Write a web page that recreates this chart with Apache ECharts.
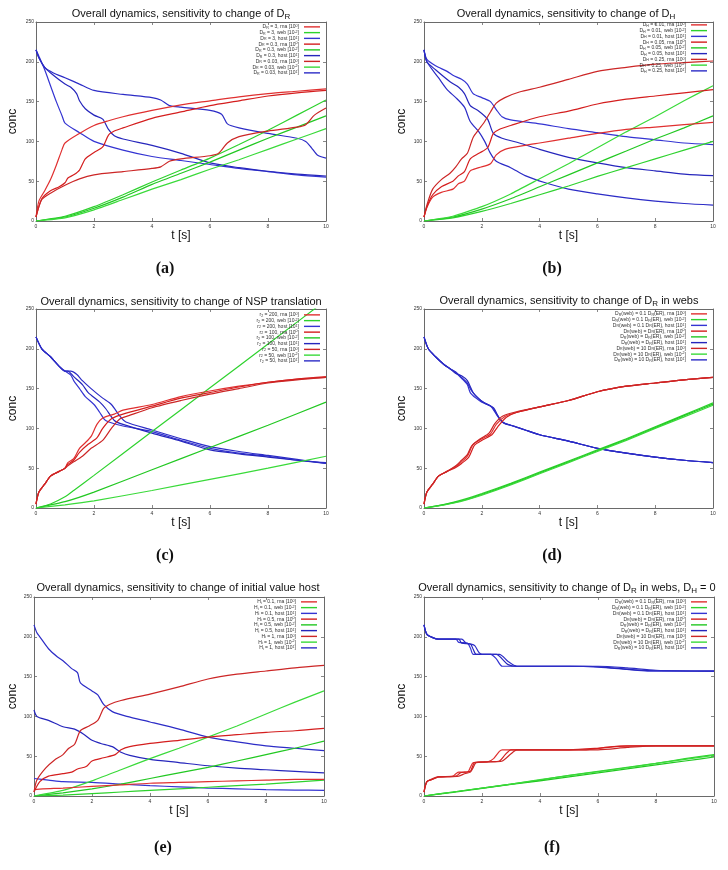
<!DOCTYPE html>
<html><head><meta charset="utf-8">
<script src="https://cdn.jsdelivr.net/npm/echarts@6/dist/echarts.min.js"></script>
<style>html,body{margin:0;padding:0;background:#fff}#c{width:728px;height:870px}</style>
</head><body><div id="c"></div>
<script>
// ---------- Panel (a): sensitivity to D_R ----------
const aRna1 = [[0,5],[0.1,25],[0.3,38],[0.5,52],[0.7,70],[0.9,90],[1,98],[1.5,110],[2,120],[2.5,126],[3,131],[4,139],[5,146],[6,151],[7,156],[8,160],[9,163],[10,166]];
const aRna2 = [[0,5],[0.2,28],[0.5,38],[0.8,43],[1,48],[1.1,54],[1.3,58],[1.5,64],[1.7,78],[2,86],[2.3,93],[2.5,108],[2.7,113],[3,117],[4,129],[5,137],[6,145],[7,151],[8,157],[9,161],[10,164]];
const aRna3 = [[0,5],[0.2,27],[0.5,35],[1,45],[1.5,53],[2,58],[3,62],[4,66],[4.3,68],[4.6,75],[5,78],[6,82],[6.3,85],[6.6,98],[7,106],[8,113],[9,118],[9.3,121],[9.6,133],[10,142]];
const aWeb1 = [[0,0],[1,6],[2,18],[3,33],[4,49],[5,64],[6,79],[7,96],[8,114],[9,133],[10,152]];
const aWeb2 = [[0,0],[1,5],[2,16],[3,30],[4,46],[5,60],[6,74],[7,89],[8,104],[9,118],[10,132]];
const aWeb3 = [[0,0],[1,4],[2,14],[3,27],[4,40],[5,52],[6,65],[7,77],[8,90],[9,103],[10,116]];
const aHost1 = [[0,215],[0.1,207],[0.3,190],[0.5,170],[0.7,150],[0.9,132],[1,123],[1.5,111],[2,100],[3,89],[4,81],[5,76],[6,71],[7,66],[8,62],[9,58],[10,55]];
const aHost2 = [[0,215],[0.1,205],[0.3,193],[0.6,183],[1,172],[1.2,168],[1.4,160],[1.5,151],[1.7,141],[2,133],[2.3,128],[2.5,115],[2.7,107],[3,103],[4,95],[5,85],[6,73],[7,67],[8,62.5],[9,59],[10,56.5]];
const aHost3 = [[0,215],[0.1,205],[0.3,193],[0.6,186],[1,180],[1.5,172],[2,164],[3,159],[4,155],[4.3,152],[4.6,145],[5,143],[6,139],[6.4,134],[6.6,122],[7,117],[8,110],[9,104],[9.3,100],[9.5,92],[9.7,83],[10,79]];

// ---------- Panel (b): sensitivity to D_H ----------
const bRna1 = [[0,5],[0.1,17],[0.3,30],[0.6,36],[1,40],[1.2,47],[1.4,50],[1.6,63],[1.9,67],[2.3,72],[2.5,83],[2.8,90],[3.5,95],[4,98],[5,104],[6,110],[7,115],[8,118],[9,121],[10,124]];
const bRna2 = [[0,5],[0.1,18],[0.3,33],[0.6,43],[1,50],[1.2,57],[1.4,62],[1.6,78],[1.9,85],[2.2,92],[2.4,110],[2.6,115],[3,120],[4,131],[5,138],[6,147],[7,153],[8,157],[9,161],[10,165]];
const bRna3 = [[0,5],[0.1,20],[0.3,40],[0.6,52],[0.9,60],[1.1,68],[1.3,78],[1.5,85],[1.7,105],[1.9,115],[2.1,125],[2.3,137],[2.5,148],[2.8,155],[3.3,162],[4,168],[5,178],[6,188],[7,193],[8,197],[9,199],[10,201]];
const bWeb1 = [[0,0],[1,4],[2,12],[3,22],[4,33],[5,44],[6,56],[7,67],[8,78],[9,89],[10,100]];
const bWeb2 = [[0,0],[1,5],[2,15],[3,28],[4,43],[5,58],[6,73],[7,88],[8,103],[9,117],[10,132]];
const bWeb3 = [[0,0],[1,6],[2,18],[3,34],[4,53],[5,72],[6,92],[7,112],[8,131],[9,151],[10,170]];
const bHost1 = [[0,215],[0.1,203],[0.4,195],[0.8,188],[1,183],[1.3,178],[1.5,172],[1.7,160],[2,155],[2.3,150],[2.5,140],[2.7,131],[3,127],[4,122],[5,116],[6,111],[7,106],[8,102],[9,98],[10,96]];
const bHost2 = [[0,215],[0.1,200],[0.4,190],[0.9,175],[1.2,168],[1.4,160],[1.6,145],[1.9,138],[2.2,128],[2.4,110],[2.7,104],[3.3,98],[4,90],[5,80],[6,73],[7,67],[8,63],[9,59],[10,57]];
const bHost3 = [[0,215],[0.1,200],[0.5,180],[0.8,165],[1.1,155],[1.4,143],[1.6,125],[1.9,112],[2.1,100],[2.3,85],[2.5,75],[3,67],[3.5,57],[4.2,48],[5,40],[6,34],[7,29],[8,25],[9,22],[10,20]];

// ---------- Panel (c): sensitivity to NSP translation ----------
const cRna1 = [[0,5],[0.1,20],[0.3,30],[0.5,40],[0.8,46],[1,50],[1.1,57],[1.3,62],[1.5,75],[1.7,82],[1.9,90],[2.1,105],[2.3,113],[2.7,118],[3,123],[4,130],[5,140],[6,147],[7,153],[8,158],[9,162],[10,165]];
const cRna2 = [[0,5],[0.1,20],[0.3,30],[0.5,40],[0.8,46],[1,50],[1.1,55],[1.3,60],[1.5,70],[1.8,80],[2.1,88],[2.3,100],[2.6,112],[3,118],[4,128],[5,138],[6,145],[7,152],[8,158],[9,162],[10,164]];
const cRna3 = [[0,5],[0.1,20],[0.3,30],[0.5,40],[0.8,46],[1,50],[1.1,53],[1.3,58],[1.6,65],[1.9,75],[2.3,85],[2.6,100],[2.9,112],[3.2,116],[4,126],[5,135],[6,143],[7,150],[8,157],[9,161],[10,164]];
const cWeb1 = [[0,0],[0.5,5],[1,14],[1.3,22],[2,41],[4,96],[6,151],[8,206],[10,261]];
const cWeb2 = [[0,0],[1,8],[2,20],[4,48],[6,76],[8,104],[10,133]];
const cWeb3 = [[0,0],[1,4],[2,9],[4,22],[6,36],[8,50],[10,65]];
const cHost1 = [[0,215],[0.2,200],[0.5,190],[0.8,178],[1,172],[1.2,167],[1.3,160],[1.5,150],[1.7,140],[2,130],[2.2,120],[2.4,110],[3,103],[4,96],[5,85],[6,75],[7,69],[8,65],[9,60],[10,57]];
const cHost2 = [[0,215],[0.2,200],[0.5,190],[0.8,178],[1,172],[1.1,172],[1.3,165],[1.6,155],[1.8,145],[2.2,133],[2.4,125],[2.7,110],[3,105],[4,94],[5,84],[6,73],[7,68],[8,64],[9,60],[10,56]];
const cHost3 = [[0,215],[0.2,200],[0.5,190],[0.8,178],[1,172],[1.2,172],[1.4,168],[1.6,160],[1.9,150],[2.3,138],[2.6,130],[2.9,115],[3.1,108],[4,98],[5,87],[6,77],[7,71],[8,66],[9,61],[10,56]];

// ---------- Panel (d): sensitivity to D_R in webs ----------
const dRna1 = [[0,5],[0.1,20],[0.3,30],[0.5,40],[0.8,46],[1.1,52],[1.3,58],[1.5,65],[1.7,80],[2,87],[2.3,93],[2.5,105],[2.8,115],[3.2,120],[4,127],[5,135],[6,146],[7,153],[8,157],[9,161],[10,164]];
const dRna2 = [[0,5],[0.1,20],[0.3,30],[0.5,40],[0.8,46],[1.1,51],[1.3,56],[1.55,64],[1.75,79],[2.05,86],[2.35,92],[2.55,102],[2.85,114],[3.2,120],[4,127],[5,135],[6,146],[7,153],[8,157],[9,161],[10,164]];
const dRna3 = [[0,5],[0.1,20],[0.3,30],[0.5,40],[0.8,46],[1.1,53],[1.3,60],[1.5,67],[1.65,78],[1.95,87],[2.25,94],[2.45,106],[2.7,115],[3.1,120],[4,127],[5,135],[6,146],[7,153],[8,157],[9,161],[10,164]];
const dWeb1 = [[0,0],[0.5,3],[1,7],[1.5,12],[2,18],[3,31],[4,45],[5,59],[6,73],[7,87],[8,102],[9,117],[10,132]];
const dWeb2 = [[0,0],[0.5,3],[1,6.5],[1.5,11],[2,17],[3,30],[4,44],[5,58],[6,72],[7,86],[8,101],[9,116],[10,130.5]];
const dWeb3 = [[0,0],[0.5,2.5],[1,6],[1.5,10.5],[2,16],[3,29],[4,43],[5,57],[6,71],[7,85],[8,100],[9,114.5],[10,129]];
const dHost1 = [[0,215],[0.15,200],[0.4,190],[0.7,180],[0.9,175],[1.1,170],[1.3,163],[1.5,155],[1.6,145],[1.8,138],[2,133],[2.3,128],[2.5,118],[2.7,108],[3,104],[3.5,98],[4,92],[5,84],[6,75],[7,69],[8,64],[9,60],[10,57]];
const dHost2 = [[0,215],[0.15,200],[0.4,190],[0.7,180],[0.9,175],[1.1,169],[1.3,166],[1.5,160],[1.7,145],[1.9,137],[2.1,132],[2.4,126],[2.6,113],[2.8,106],[3.1,103],[3.5,98],[4,92],[5,84],[6,75],[7,69],[8,64],[9,60],[10,57]];
const dHost3 = [[0,215],[0.15,200],[0.4,190],[0.7,180],[0.9,175],[1.1,171],[1.3,164],[1.5,157],[1.65,147],[1.85,139],[2.05,133],[2.35,127],[2.55,116],[2.75,107],[3,104],[3.5,98],[4,92],[5,84],[6,75],[7,69],[8,64],[9,60],[10,57]];

// ---------- Panel (e): sensitivity to initial value host ----------
const eRna1 = [[0,8],[0.3,9],[1,10],[2,12],[3,14],[4,16],[5,17],[6,18],[7,19],[8,20],[9,21],[10,21]];
const eRna2 = [[0,5],[0.2,18],[0.5,25],[1,28],[1.3,30],[1.5,34],[1.8,37],[2,44],[2.4,48],[2.8,52],[3,58],[3.3,62],[4,66],[5,70],[6,74],[7,77],[8,80],[9,82],[10,85]];
const eRna3 = [[0,5],[0.1,20],[0.4,35],[0.7,45],[1,52],[1.2,60],[1.4,65],[1.6,82],[1.9,88],[2.2,95],[2.4,110],[2.6,115],[3,120],[4,128],[5,137],[6,147],[7,153],[8,157],[9,161],[10,164]];
const eWeb1 = [[0,0],[1,1],[2,3],[3,5],[4,7],[5,9],[6,11],[7,13],[8,15],[9,17.5],[10,20]];
const eWeb2 = [[0,0],[1,4],[2,9],[3,15],[4,22],[5,29],[6,36],[7,44],[8,52],[9,60],[10,69]];
const eWeb3 = [[0,0],[1,7],[2,19],[3,33],[4,47],[5,60],[6,74],[7,88],[8,103],[9,118],[10,132]];
const eHost1 = [[0,22],[0.5,20],[1,18],[2,17],[3,15],[4,13],[5,11.5],[6,10],[7,9],[8,8],[9,7.5],[10,7]];
const eHost2 = [[0,108],[0.1,100],[0.5,95],[1,87],[1.4,84],[1.7,78],[2,70],[2.3,66],[2.7,62],[3,55],[3.3,51],[4,46],[5,42],[6,38],[7,35],[8,33],[9,31],[10,29]];
const eHost3 = [[0,215],[0.1,205],[0.2,200],[0.5,185],[0.8,175],[1,170],[1.3,160],[1.5,155],[1.6,142],[2,132],[2.2,127],[2.4,115],[2.7,106],[3.2,100],[4,93],[5,84],[6,74],[7,68],[8,63],[9,60],[10,57]];

// ---------- Panel (f): sensitivity to D_R in webs, D_H = 0 ----------
const fRna1 = [[0,5],[0.1,18],[0.3,21],[0.5,24],[1,25],[1.1,28],[1.2,30],[1.5,30],[1.6,36],[1.7,42],[2.2,43],[2.4,47],[2.6,56],[2.7,58],[5.5,58],[6.5,62],[7.5,63],[10,63]];
const fRna2 = [[0,5],[0.1,18],[0.3,21],[0.5,24],[1.1,25],[1.25,29],[1.4,30],[1.6,31],[1.75,42],[2.3,43],[2.6,44],[2.8,52],[3,58],[5,58],[6,60],[7,63],[10,63]];
const fRna3 = [[0,5],[0.1,18],[0.3,22],[0.5,24],[1.2,25],[1.4,28],[1.6,30],[1.7,36],[1.8,42],[2.5,43],[2.7,44],[3,53],[3.2,58],[6,58],[7,61],[8,63],[10,63]];
const fWeb1 = [[0,0],[1,5],[2,10],[3,15],[4,20],[5,26],[6,31],[7,36],[8,41],[9,47],[10,52]];
const fWeb2 = [[0,0],[1,4.5],[2,9.5],[3,14.5],[4,19],[5,24],[6,29],[7,34],[8,39],[9,44],[10,49]];
const fWeb3 = [[0,0],[1,5],[2,10],[3,15],[4,20.5],[5,25.5],[6,30.5],[7,35.5],[8,41],[9,46],[10,51]];
const fHost1 = [[0,215],[0.1,203],[0.3,199],[0.5,197],[1.1,197],[1.2,193],[1.5,192],[1.6,186],[1.7,178],[2.3,178],[2.5,172],[2.7,163],[5,163],[6,162],[7,159],[7.7,157],[10,157]];
const fHost2 = [[0,215],[0.1,203],[0.3,199],[0.5,197],[1.2,197],[1.3,192],[1.6,191],[1.7,184],[1.8,178],[2.5,178],[2.7,172],[2.9,165],[3.2,163],[5.5,163],[6.5,161],[7.5,158],[10,157]];
const fHost3 = [[0,215],[0.1,203],[0.3,199],[0.5,197],[1.3,197],[1.45,192],[1.6,191],[1.75,189],[1.9,180],[2,178],[2.6,178],[2.9,169],[3.2,163],[6,163],[7,161],[8,158],[10,157]];

// ---------- Texts ----------
const titles = [
  'Overall dynamics, sensitivity to change of D_{R}',
  'Overall dynamics, sensitivity to change of D_{H}',
  'Overall dynamics, sensitivity to change of NSP translation',
  'Overall dynamics, sensitivity to change of D_{R} in webs',
  'Overall dynamics, sensitivity to change of initial value host',
  'Overall dynamics, sensitivity to change of D_{R} in webs, D_{H} = 0'
];
const captions = ['(a)','(b)','(c)','(d)','(e)','(f)'];
const paramA = ['D_{R} = 3', 'D_{R} = 0.3', 'D_{R} = 0.03'];
const paramB = ['D_{H} = 0.01', 'D_{H} = 0.05', 'D_{H} = 0.25'];
const paramC = ['r_{2} = 200', 'r_{2} = 100', 'r_{2} = 50'];
const paramD = ['D_{R}(web) = 0.1 D_{R}(ER)', 'D_{R}(web) = D_{R}(ER)', 'D_{R}(web) = 10 D_{R}(ER)'];
const paramE = ['H_{i} = 0.1', 'H_{i} = 0.5', 'H_{i} = 1'];
const speciesLabels = [', rna [10^{0}]', ', web [10^{-2}]', ', host [10^{1}]'];
const xName = 't [s]';
const yName = 'conc';

// ---------- Layout (pixels) ----------
const panels = [
  {grid:[36,22,290,199], title:[181,14], cap:[165,269], leg:[408,24], yGap:17, params:paramA,
   data:[[aRna1,aWeb1,aHost1],[aRna2,aWeb2,aHost2],[aRna3,aWeb3,aHost3]]},
  {grid:[424,22,289,199], title:[566,14], cap:[552,269], leg:[21,22], yGap:16, params:paramB,
   data:[[bRna1,bWeb1,bHost1],[bRna2,bWeb2,bHost2],[bRna3,bWeb3,bHost3]]},
  {grid:[36,309,290,199], title:[181,302], cap:[165,556], leg:[408,312], yGap:17, params:paramC,
   data:[[cRna1,cWeb1,cHost1],[cRna2,cWeb2,cHost2],[cRna3,cWeb3,cHost3]]},
  {grid:[424,309,289,199], title:[569,301], cap:[552,556], leg:[21,311], yGap:16, params:paramD,
   data:[[dRna1,dWeb1,dHost1],[dRna2,dWeb2,dHost2],[dRna3,dWeb3,dHost3]]},
  {grid:[34,597,290,199], title:[178,588], cap:[163,848], leg:[411,599], yGap:15, params:paramE,
   data:[[eRna1,eWeb1,eHost1],[eRna2,eWeb2,eHost2],[eRna3,eWeb3,eHost3]]},
  {grid:[424,597,290,199], title:[567,588], cap:[552,848], leg:[21,599], yGap:16, params:paramD,
   data:[[fRna1,fWeb1,fHost1],[fRna2,fWeb2,fHost2],[fRna3,fWeb3,fHost3]]}
];
const colors = [
  ['#e03030','#2ed22e','#3434d2'],
  ['#d41e1e','#22c822','#2626bc'],
  ['#cc2626','#3ada3a','#2c2cc6']
];

function toRich(s, base) {
  let out = '', buf = '', i = 0;
  const flush = () => { if (buf) { out += '{' + base + '|' + buf + '}'; buf = ''; } };
  while (i < s.length) {
    if ((s[i] === '_' || s[i] === '^') && s[i + 1] === '{') {
      flush();
      const j = s.indexOf('}', i);
      out += '{' + base + (s[i] === '_' ? 'Sub' : 'Sup') + '|' + s.slice(i + 2, j) + '}';
      i = j + 1;
    } else { buf += s[i]; i++; }
  }
  flush();
  return out;
}

const FONT = 'Liberation Sans';
const legendRich = {
  n: {fontSize: 5, fontFamily: FONT, color: '#333', lineHeight: 5.75},
  nSub: {fontSize: 3.6, fontFamily: FONT, color: '#333', lineHeight: 3.6, verticalAlign: 'bottom'},
  nSup: {fontSize: 3.6, fontFamily: FONT, color: '#333', lineHeight: 3.6, verticalAlign: 'top'}
};
const titleRich = {
  t: {fontSize: 11, fontWeight: 'normal', fontFamily: FONT, color: '#111', lineHeight: 14},
  tSub: {fontSize: 8, fontWeight: 'normal', fontFamily: FONT, color: '#111', lineHeight: 8, verticalAlign: 'bottom'},
  tSup: {fontSize: 8, fontWeight: 'normal', fontFamily: FONT, color: '#111', lineHeight: 8, verticalAlign: 'top'}
};

const option = {animation: false, backgroundColor: '#fff', grid: [], xAxis: [], yAxis: [], series: [], legend: [], title: []};
const labelMap = {};
const axisCol = '#6a6a6a';

panels.forEach((p, i) => {
  const [l, t, w, h] = p.grid;
  option.grid.push({left: l, top: t, width: w, height: h, containLabel: false});
  const tick = {show: true, inside: true, length: 3, lineStyle: {color: axisCol, width: 0.8}};
  const line = {show: true, onZero: false, lineStyle: {color: axisCol, width: 1}};
  option.xAxis.push({gridIndex: i, type: 'value', min: 0, max: 10, interval: 2, position: 'bottom',
    name: xName, nameLocation: 'middle', nameGap: 7,
    nameTextStyle: {fontSize: 12, fontFamily: FONT, color: '#111', verticalAlign: 'top'},
    axisLine: line, axisTick: tick, splitLine: {show: false},
    axisLabel: {fontSize: 5, fontFamily: FONT, color: '#333', margin: 3}});
  option.xAxis.push({gridIndex: i, type: 'value', min: 0, max: 10, interval: 2, position: 'top',
    axisLine: line, axisTick: tick, splitLine: {show: false}, axisLabel: {show: false}});
  option.yAxis.push({gridIndex: i, type: 'value', min: 0, max: 250, interval: 50, position: 'left',
    name: yName, nameLocation: 'middle', nameGap: p.yGap, nameRotate: 90,
    nameTextStyle: {fontSize: 12, fontFamily: FONT, color: '#111'},
    axisLine: line, axisTick: tick, splitLine: {show: false},
    axisLabel: {fontSize: 5, fontFamily: FONT, color: '#333', margin: 2}});
  option.yAxis.push({gridIndex: i, type: 'value', min: 0, max: 250, interval: 50, position: 'right',
    axisLine: line, axisTick: tick, splitLine: {show: false}, axisLabel: {show: false}});

  const names = [];
  p.data.forEach((group, k) => {
    group.forEach((arr, s) => {
      const key = 'p' + i + '_' + k + '_' + s;
      labelMap[key] = toRich(p.params[k] + speciesLabels[s], 'n');
      names.push(key);
      const c = colors[k][s];
      option.series.push({type: 'line', name: key, xAxisIndex: 2 * i, yAxisIndex: 2 * i,
        data: arr, symbol: 'none', showSymbol: false, smooth: s === 1 ? 0.15 : 0.25,
        clip: true, lineStyle: {width: 1.2, color: c}, itemStyle: {color: c}, z: 3 - s});
    });
  });
  option.legend.push({data: names, orient: 'vertical', align: 'right', right: p.leg[0], top: p.leg[1],
    padding: 0, itemGap: 0, itemWidth: 16, itemHeight: 1.4, icon: 'rect', selectedMode: false,
    formatter: n => labelMap[n], textStyle: {fontSize: 5, fontFamily: FONT, color: '#333', lineHeight: 5.75, rich: legendRich}});
  option.title.push({text: toRich(titles[i], 't'), left: p.title[0], top: p.title[1], padding: 0,
    textAlign: 'center', textVerticalAlign: 'middle',
    textStyle: {fontSize: 11, fontWeight: 'normal', fontFamily: FONT, color: '#111', rich: titleRich}});
  option.title.push({text: captions[i], left: p.cap[0], top: p.cap[1], padding: 0,
    textAlign: 'center', textVerticalAlign: 'middle',
    textStyle: {fontSize: 16, fontWeight: 'bold', fontFamily: 'Liberation Serif', color: '#111'}});
});

const chart = echarts.init(document.getElementById('c'), null, {renderer: 'canvas'});
chart.setOption(option);
</script></body></html>
